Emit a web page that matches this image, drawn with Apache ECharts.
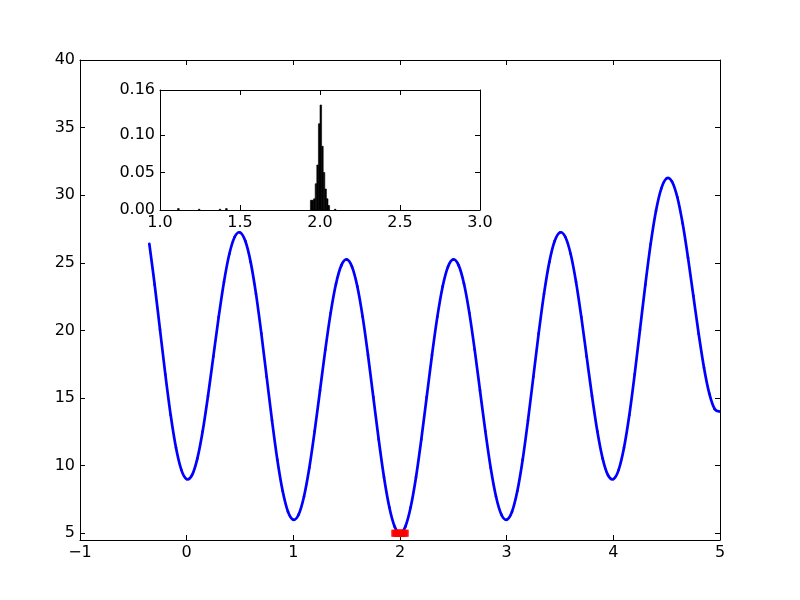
<!DOCTYPE html>
<html>
<head>
<meta charset="utf-8">
<script src="https://cdn.jsdelivr.net/npm/echarts@6/dist/echarts.min.js"></script>
<style>html,body{margin:0;padding:0;background:#fff}#c{width:800px;height:600px}</style>
</head>
<body>
<div id="c"></div>
<script>
// Main curve
const curveX = [-0.35,-0.3,-0.25,-0.2,-0.15,-0.1,-0.05,0,0.05,0.1,0.15,0.2,0.25,0.3,0.35,0.4,0.45,0.5,0.55,0.6,0.65,0.7,0.75,0.8,0.85,0.9,0.95,
  1,1.05,1.1,1.15,1.2,1.25,1.3,1.35,1.4,1.45,1.5,1.55,1.6,1.65,1.7,1.75,1.8,1.85,1.9,1.95,
  2,2.05,2.1,2.15,2.2,2.25,2.3,2.35,2.4,2.45,2.5,2.55,2.6,2.65,2.7,2.75,2.8,2.85,2.9,2.95,
  3,3.05,3.1,3.15,3.2,3.25,3.3,3.35,3.4,3.45,3.5,3.55,3.6,3.65,3.7,3.75,3.8,3.85,3.9,3.95,
  4,4.05,4.1,4.15,4.2,4.25,4.3,4.35,4.4,4.45,4.5,4.55,4.6,4.65,4.7,4.75,4.8,4.85,4.9,4.95,5];
const curveY = [26.40,23.38,20.06,16.75,13.74,11.32,9.69,9.00,9.29,10.52,12.54,15.15,18.06,20.98,23.60,25.65,26.91,27.25,26.61,25.05,22.70,19.78,16.56,13.35,10.44,8.12,6.59,
  6.00,6.39,7.72,9.84,12.55,15.56,18.58,21.30,23.45,24.81,25.25,24.71,23.25,21.00,18.18,15.06,11.95,9.14,6.92,5.49,
  5.00,5.49,6.92,9.14,11.95,15.06,18.18,21.00,23.25,24.71,25.25,24.81,23.45,21.30,18.58,15.56,12.55,9.84,7.72,6.39,
  6.00,6.59,8.12,10.44,13.35,16.56,19.78,22.70,25.05,26.61,27.25,26.91,25.65,23.60,20.98,18.06,15.15,12.54,10.52,9.29,
  9.00,9.69,11.32,13.74,16.75,20.06,23.38,26.40,28.85,30.51,31.25,31.01,29.85,27.90,25.38,22.56,19.75,17.24,15.32,14.19,14.00];
// Red minima markers
const minimaX = [1.95,1.96,1.97,1.98,1.99,2.0,2.01,2.02,2.03,2.04,2.05];
const minimaY = [5,5,5,5,5,5,5,5,5,5,5];
// Inset histogram
const histLeft = [1.11,1.24,1.37,1.41,1.94,1.95,1.96,1.97,1.98,1.99,2.00,2.01,2.02,2.03,2.04,2.05,2.09];
const histHeight = [0.002,0.001,0.001,0.002,0.013,0.013,0.015,0.035,0.06,0.115,0.14,0.085,0.05,0.028,0.015,0.006,0.001];
const binWidth = 0.01;
// Tick values
const mainXTicks = [-1,0,1,2,3,4,5];
const mainYTicks = [5,10,15,20,25,30,35,40];
const insetXTicks = [1.0,1.5,2.0,2.5,3.0];
const insetYTicks = [0,0.05,0.10,0.16];

const FONT = 'DejaVu Sans';
const lbl = {color:'#000', fontFamily:FONT, fontSize:16};
const line = {show:true, onZero:false, lineStyle:{color:'#000', width:1}};
const tick = {show:true, inside:true, length:5, lineStyle:{color:'#000', width:1}};
const minus = v => String(v).replace('-', '\u2212');

function xAx(grid, pos, min, max, interval, ticks, fmt, labels){
  return {type:'value', gridIndex:grid, position:pos, min, max, interval,
    axisLine:line, axisTick:Object.assign({}, tick, {customValues:ticks}),
    axisLabel:Object.assign({}, lbl, {show:labels, margin:5, customValues:ticks, formatter:fmt}),
    splitLine:{show:false}};
}
function yAx(grid, pos, min, max, ticks, fmt, labels){
  return {type:'value', gridIndex:grid, position:pos, min, max,
    axisLine:line, axisTick:Object.assign({}, tick, {customValues:ticks}),
    axisLabel:Object.assign({}, lbl, {show:labels, margin:5, customValues:ticks, formatter:fmt}),
    splitLine:{show:false}};
}

// Curve drawn as Catmull-Rom segments through the data points, positioned by the axes
function renderCurve(params, api){
  const n = params.dataInsideLength;
  const i = params.dataIndexInside;
  if (i >= n - 1) return null;
  const pt = k => { k = Math.max(0, Math.min(n - 1, k)); return api.coord([api.value(0, k), api.value(1, k)]); };
  const p0 = pt(i - 1), p1 = pt(i), p2 = pt(i + 1), p3 = pt(i + 2);
  return {type:'bezierCurve',
    shape:{x1:p1[0], y1:p1[1], x2:p2[0], y2:p2[1],
      cpx1:p1[0] + (p2[0] - p0[0]) / 6, cpy1:p1[1] + (p2[1] - p0[1]) / 6,
      cpx2:p2[0] - (p3[0] - p1[0]) / 6, cpy2:p2[1] - (p3[1] - p1[1]) / 6},
    style:{stroke:'#0000ff', lineWidth:2.7, fill:null, lineCap:'round', lineJoin:'round'}};
}

const chart = echarts.init(document.getElementById('c'), null, {renderer:'canvas'});
chart.setOption({
  animation:false,
  backgroundColor:'#fff',
  grid:[
    {left:80, top:60, width:640, height:480, show:false},
    {left:160, top:90, width:320, height:120, show:true, backgroundColor:'#fff', borderWidth:0, z:5}
  ],
  xAxis:[
    xAx(0,'bottom',-1,5,1,mainXTicks,minus,true),
    xAx(0,'top',-1,5,1,mainXTicks,minus,false),
    Object.assign(xAx(1,'bottom',1,3,0.5,insetXTicks,v=>v.toFixed(1),true),{z:6}),
    Object.assign(xAx(1,'top',1,3,0.5,insetXTicks,v=>v.toFixed(1),false),{z:6})
  ],
  yAxis:[
    yAx(0,'left',4.5,40,mainYTicks,minus,true),
    yAx(0,'right',4.5,40,mainYTicks,minus,false),
    Object.assign(yAx(1,'left',0,0.16,insetYTicks,v=>v.toFixed(2),true),{z:6}),
    Object.assign(yAx(1,'right',0,0.16,insetYTicks,v=>v.toFixed(2),false),{z:6})
  ],
  series:[
    {type:'custom', xAxisIndex:0, yAxisIndex:0, data:curveX.map((x,i)=>[x,curveY[i]]),
     renderItem:renderCurve, clip:true, z:2},
    {type:'scatter', xAxisIndex:0, yAxisIndex:0, data:minimaX.map((x,i)=>[x,minimaY[i]]),
     symbol:'rect', symbolSize:7, itemStyle:{color:'#ff0000'}, z:3},
    {type:'custom', xAxisIndex:2, yAxisIndex:2, z:7,
     data:histLeft.map((x,i)=>[x,histHeight[i]]),
     renderItem:function(params, api){
       const x0 = api.value(0), h = api.value(1);
       const p0 = api.coord([x0, h]);
       const p1 = api.coord([x0 + binWidth, 0]);
       return {type:'rect', shape:{x:p0[0], y:p0[1], width:Math.max(p1[0]-p0[0],1), height:Math.max(p1[1]-p0[1],1)},
               style:{fill:'#000', stroke:'#000', lineWidth:0.6}};
     }}
  ]
});
</script>
</body>
</html>
